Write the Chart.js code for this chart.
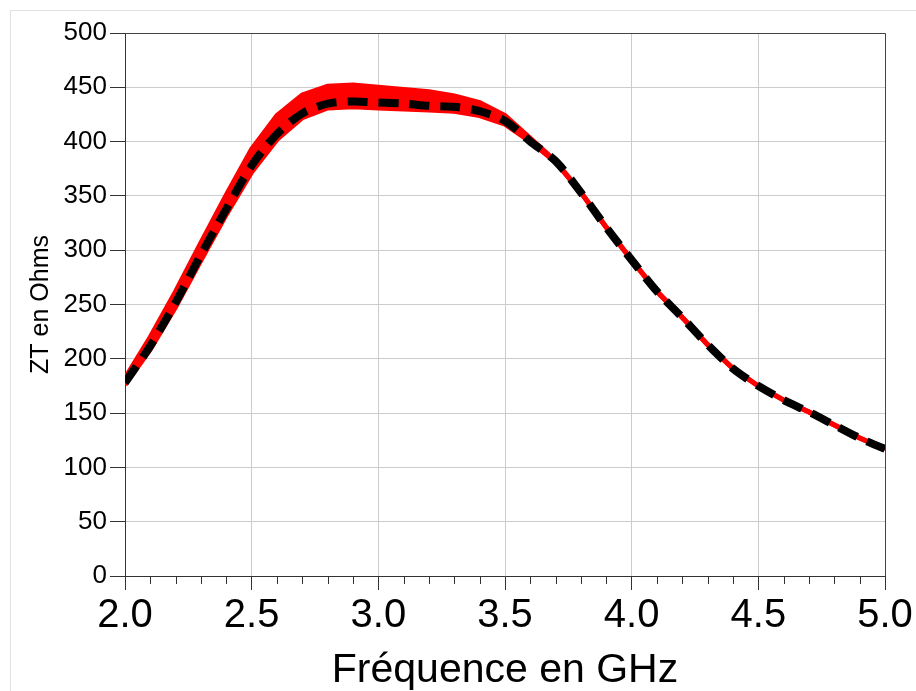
<!DOCTYPE html>
<html>
<head>
<meta charset="utf-8">
<script src="https://cdn.jsdelivr.net/npm/chart.js@4.4.1/dist/chart.umd.min.js"></script>
<style>
  body { margin: 0; background: #fff; overflow: hidden; }
  #wrap { position: relative; width: 916px; height: 691px; }
  #frame { position: absolute; left: 10px; top: 10px; width: 1000px; height: 1000px; border: 1px solid #e2e2e2; }
  canvas { position: absolute; left: 0; top: 0; }
</style>
</head>
<body>
<div id="wrap">
  <div id="frame"></div>
  <canvas id="ztChart" width="916" height="691"></canvas>
</div>
<script>
// Frequencies (GHz)
const freqs = [2.0, 2.1, 2.2, 2.3, 2.4, 2.5, 2.6, 2.7, 2.8, 2.9, 3.0, 3.1, 3.2, 3.3, 3.4, 3.5,
               3.6, 3.7, 3.8, 3.9, 4.0, 4.1, 4.2, 4.3, 4.4, 4.5, 4.6, 4.7, 4.8, 4.9, 5.0];

// Red band, upper and lower edge (Ohms)
const redUpper = [182, 220, 262, 307, 351, 393, 424, 443, 451, 452, 450, 448, 446, 442, 436, 424,
                  403, 382, 353, 321, 291, 262, 238, 213, 191, 175, 162, 151, 139, 127, 117];
const redLower = [176, 209, 248, 291, 333, 372, 402, 422, 431, 432, 431, 430, 429, 428, 424, 416,
                  400, 381, 353, 321, 291, 262, 238, 213, 191, 175, 162, 151, 139, 127, 117];

// Black dashed curve (Ohms)
const blackZt = [178, 212, 252, 296, 338, 378, 407, 426, 435, 437, 436, 435, 433, 432, 428, 419,
                 400, 382, 353, 321, 291, 262, 238, 213, 191, 175, 162, 151, 139, 127, 117];

// Axis settings
const yTicks = { min: 0, max: 500, step: 50 };
const xTicks = { min: 2.0, max: 5.0, step: 0.1 };

const FONT = "'Liberation Sans', Arial, sans-serif";

function toPoints(values) {
    return freqs.map((f, i) => ({ x: f, y: values[i] }));
}

function isMajor(v) {
    return Math.round(v * 10) % 5 === 0;
}

// Frame on top/right plus short minor ticks on the x axis
const frameAndTicks = {
    id: 'frameAndTicks',
    beforeDatasetsDraw(chart) {
        const { ctx, chartArea: a, scales: { x } } = chart;
        ctx.save();
        ctx.strokeStyle = '#444';
        ctx.lineWidth = 1;
        ctx.beginPath();
        ctx.moveTo(a.left, a.top + 0.5);
        ctx.lineTo(a.right + 0.5, a.top + 0.5);
        ctx.lineTo(a.right + 0.5, a.bottom);
        ctx.stroke();

        ctx.strokeStyle = '#333';
        ctx.beginPath();
        x.ticks.forEach(t => {
            if (isMajor(t.value)) return;
            const px = Math.round(x.getPixelForValue(t.value)) + 0.5;
            ctx.moveTo(px, a.bottom);
            ctx.lineTo(px, a.bottom + 8);
        });
        ctx.stroke();
        ctx.restore();
    }
};

window.onload = function() {
    const ctx = document.getElementById('ztChart').getContext('2d');

    new Chart(ctx, {
        type: 'line',
        data: {
            datasets: [
                {
                    label: 'ZT noir',
                    data: toPoints(blackZt),
                    borderColor: '#000',
                    borderWidth: 8,
                    borderDash: [20, 11],
                    borderCapStyle: 'butt',
                    pointRadius: 0,
                    tension: 0.3,
                    fill: false,
                    order: 0
                },
                {
                    label: 'ZT haut',
                    data: toPoints(redUpper),
                    borderColor: '#ff0000',
                    backgroundColor: '#ff0000',
                    borderWidth: 5,
                    pointRadius: 0,
                    tension: 0,
                    fill: '+1',
                    order: 1
                },
                {
                    label: 'ZT bas',
                    data: toPoints(redLower),
                    borderColor: '#ff0000',
                    borderWidth: 5,
                    pointRadius: 0,
                    tension: 0,
                    fill: false,
                    order: 2
                }
            ]
        },
        options: {
            responsive: false,
            animation: false,
            layout: { padding: { top: 33, right: 31, left: 0, bottom: 0 } },
            plugins: {
                legend: { display: false },
                tooltip: { enabled: false }
            },
            scales: {
                x: {
                    type: 'linear',
                    min: xTicks.min,
                    max: xTicks.max,
                    afterFit: s => { s.height = 115; },
                    border: { color: '#333', width: 1 },
                    grid: {
                        color: c => (c.tick && isMajor(c.tick.value)) ? '#cccccc' : 'rgba(0,0,0,0)',
                        tickColor: c => (c.tick && isMajor(c.tick.value)) ? '#333' : 'rgba(0,0,0,0)',
                        tickLength: 14
                    },
                    ticks: {
                        stepSize: xTicks.step,
                        autoSkip: false,
                        maxRotation: 0,
                        padding: 2,
                        color: '#000',
                        font: { family: FONT, size: 40 },
                        callback: v => isMajor(v) ? v.toFixed(1) : ''
                    },
                    title: {
                        display: true,
                        text: 'Fréquence en GHz',
                        color: '#000',
                        font: { family: FONT, size: 41, lineHeight: 1 },
                        padding: { top: 0, bottom: 0 }
                    }
                },
                y: {
                    min: yTicks.min,
                    max: yTicks.max,
                    afterFit: s => { s.width = 125; },
                    border: { color: '#333', width: 1 },
                    grid: {
                        color: '#cccccc',
                        tickColor: '#333',
                        tickLength: 15
                    },
                    ticks: {
                        stepSize: yTicks.step,
                        padding: 3,
                        color: '#000',
                        font: { family: FONT, size: 26 }
                    },
                    title: {
                        display: true,
                        text: 'ZT en Ohms',
                        color: '#000',
                        font: { family: FONT, size: 25, lineHeight: 1 },
                        padding: { top: 29, bottom: 0 }
                    }
                }
            }
        },
        plugins: [frameAndTicks]
    });
};
</script>
</body>
</html>
